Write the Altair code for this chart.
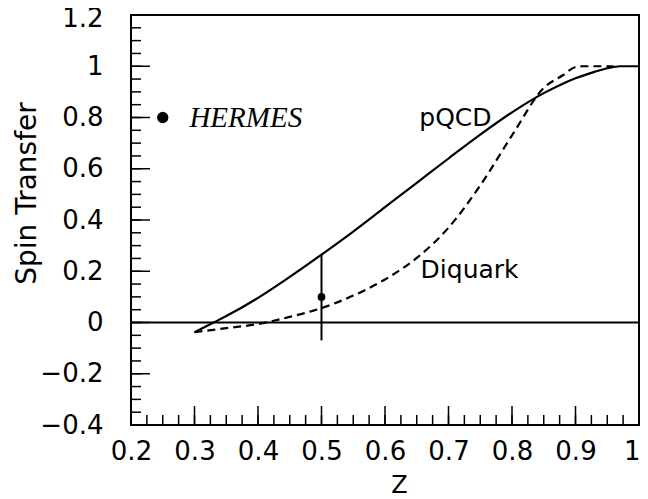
import altair as alt
import pandas as pd

# pQCD curve (solid)
pqcd_z = [0.30, 0.33, 0.35, 0.40, 0.45, 0.50, 0.55, 0.60, 0.65, 0.70, 0.75, 0.80, 0.85, 0.88, 0.90, 0.93, 0.95, 0.97, 1.00]
pqcd_s = [-0.038, 0.000, 0.025, 0.096, 0.178, 0.265, 0.355, 0.450, 0.545, 0.640, 0.733, 0.820, 0.895, 0.932, 0.953, 0.978, 0.992, 1.000, 1.000]
# Diquark curve (dashed)
diq_z = [0.30, 0.35, 0.40, 0.45, 0.50, 0.55, 0.60, 0.65, 0.70, 0.75, 0.80, 0.85, 0.88, 0.90, 0.91, 0.96]
diq_s = [-0.038, -0.022, -0.006, 0.022, 0.056, 0.105, 0.168, 0.252, 0.370, 0.535, 0.730, 0.915, 0.965, 0.997, 1.000, 1.000]
# HERMES data point
herm_z = [0.5]
herm_s = [0.1]
herm_lo = [-0.07]
herm_hi = [0.265]
# legend marker
leg_z = [0.25]
leg_s = [0.8]
leg_text_z = [0.292]
leg_text_s = [0.764]
leg_text = ["HERMES"]
# curve labels
lab_text = ["pQCD", "Diquark"]
lab_z = [0.654, 0.656]
lab_s = [0.766, 0.173]
# axis ticks
x_major = [0.2, 0.3, 0.4, 0.5, 0.6, 0.7, 0.8, 0.9, 1.0]
x_minor = [round(0.2 + 0.025 * i, 3) for i in range(33)]
y_major = [-0.4, -0.2, 0.0, 0.2, 0.4, 0.6, 0.8, 1.0, 1.2]
y_minor = [round(-0.4 + 0.05 * i, 3) for i in range(33)]

W, H = 508, 410

xs = alt.Scale(domain=[0.2, 1.0], nice=False, zero=False)
ys = alt.Scale(domain=[-0.4, 1.2], nice=False, zero=False)

xax = alt.Axis(values=x_major, format="~g", title="Z", ticks=False, tickSize=0, domain=False,
               grid=False, labelFlush=False, labelOverlap=False, labelPadding=13,
               labelAlign={"condition": {"test": "datum.value == 1", "value": "right"}, "value": "center"},
               labelOffset={"condition": {"test": "datum.value == 1", "value": 1}, "value": 0},
               labelFont="DejaVu Sans", labelFontSize=26, labelColor="black",
               titleFont="DejaVu Sans", titleFontSize=24, titleFontWeight="normal",
               titleColor="black", titleX=268, titleY=67, titleAlign="center",
               titleBaseline="alphabetic")
yax = alt.Axis(values=y_major, format="~g", title="Spin Transfer", ticks=False, tickSize=0,
               domain=False, grid=False, labelFlush=False, labelOverlap=False, labelPadding=28,
               labelOffset={"condition": {"test": "datum.value == 1.2", "value": 3}, "value": 0},
               labelFont="DejaVu Sans", labelFontSize=26, labelColor="black",
               titleFont="DejaVu Sans", titleFontSize=28, titleFontWeight="normal",
               titleColor="black", titleAngle=270, titleX=-96, titleY=178,
               titleAlign="center", titleBaseline="alphabetic")

X = lambda f="z": alt.X(f + ":Q", scale=xs, axis=xax)
Y = lambda f="s": alt.Y(f + ":Q", scale=ys, axis=yax)

pq = alt.Chart(pd.DataFrame({"z": pqcd_z, "s": pqcd_s})).mark_line(
    color="black", strokeWidth=2.2, interpolate="monotone").encode(x=X(), y=Y())
dq = alt.Chart(pd.DataFrame({"z": diq_z, "s": diq_s})).mark_line(
    color="black", strokeWidth=2.2, strokeDash=[8, 5], interpolate="monotone").encode(x=X(), y=Y())

zero = alt.Chart(pd.DataFrame({"s": [0.0]})).mark_rule(color="black", strokeWidth=2).encode(
    y=Y(), x=alt.value(0), x2=alt.value(W))

hdf = pd.DataFrame({"z": herm_z, "s": herm_s, "lo": herm_lo, "hi": herm_hi})
ebar = alt.Chart(hdf).mark_rule(color="black", strokeWidth=2).encode(
    x=X(), y=Y("lo"), y2=alt.Y2("hi:Q"))
hpt = alt.Chart(hdf).mark_circle(color="black", opacity=1, size=60).encode(x=X(), y=Y())

lpt = alt.Chart(pd.DataFrame({"z": leg_z, "s": leg_s})).mark_circle(
    color="black", opacity=1, size=127).encode(x=X(), y=Y())
ltx = alt.Chart(pd.DataFrame({"z": leg_text_z, "s": leg_text_s, "t": leg_text})).mark_text(
    align="left", baseline="alphabetic", font="Liberation Serif", fontStyle="italic",
    fontSize=29, color="black").encode(x=X(), y=Y(), text="t:N")

labs = alt.Chart(pd.DataFrame({"z": lab_z, "s": lab_s, "t": lab_text})).mark_text(
    align="left", baseline="alphabetic", font="DejaVu Sans", fontSize=25, color="black").encode(
    x=X(), y=Y(), text="t:N")

xmaj = alt.Chart(pd.DataFrame({"z": x_major})).mark_rule(color="black", strokeWidth=1.5).encode(
    x=X(), y=alt.value(H), y2=alt.value(H - 19))
xmin = alt.Chart(pd.DataFrame({"z": x_minor})).mark_rule(color="black", strokeWidth=1.5).encode(
    x=X(), y=alt.value(H), y2=alt.value(H - 10))
ymaj = alt.Chart(pd.DataFrame({"s": y_major})).mark_rule(color="black", strokeWidth=1.5).encode(
    y=Y(), x=alt.value(0), x2=alt.value(19))
ymin = alt.Chart(pd.DataFrame({"s": y_minor})).mark_rule(color="black", strokeWidth=1.5).encode(
    y=Y(), x=alt.value(0), x2=alt.value(10))

chart = alt.layer(xmin, xmaj, ymin, ymaj, zero, pq, dq, ebar, hpt, lpt, ltx, labs).properties(
    width=W, height=H,
    autosize=alt.AutoSizeParams(type="none"),
    padding={"left": 123, "top": 7, "right": 1, "bottom": 74},
    background="white",
).configure_view(stroke="black", strokeWidth=2)

chart.save("out.html", embed_options={"renderer": "svg", "actions": False})
